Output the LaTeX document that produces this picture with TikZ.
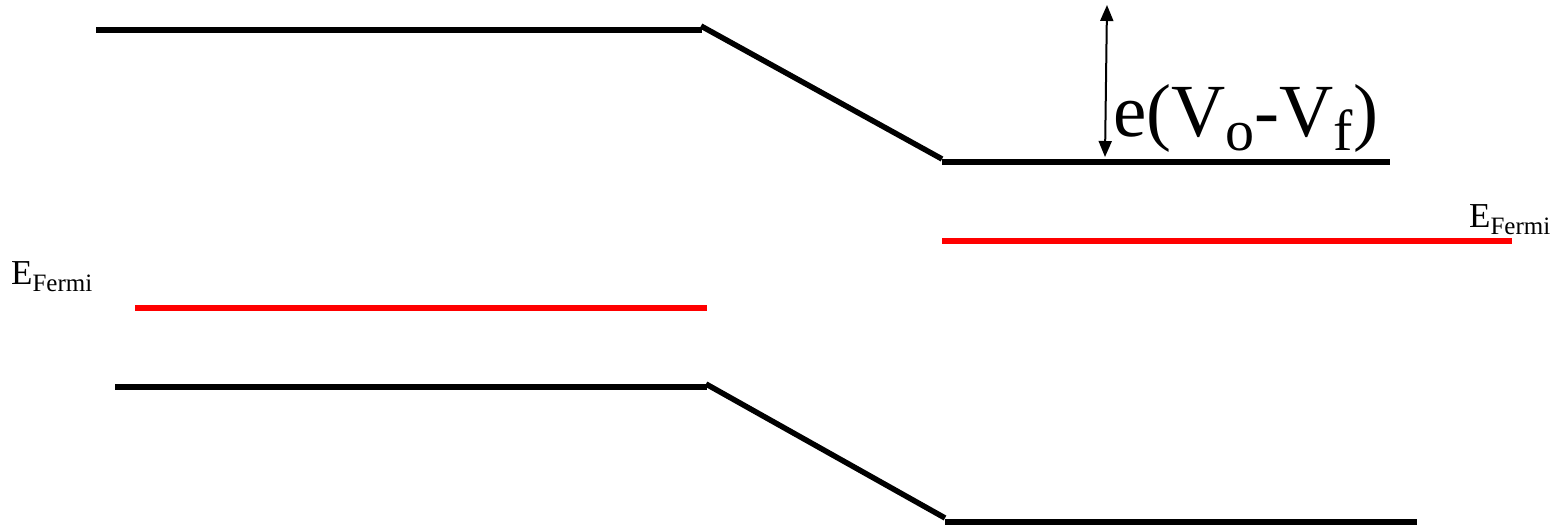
\documentclass[tikz,border=0pt]{standalone}
\usepackage{fontspec}
\setmainfont{Liberation Serif}
\usetikzlibrary{arrows.meta}
\newcommand{\lowsub}[1]{\raisebox{-14pt}{\fontsize{58}{58}\selectfont #1}}
\newcommand{\smallsub}[1]{\raisebox{-7pt}{\fontsize{25}{25}\selectfont #1}}
\begin{document}
\begin{tikzpicture}[x=1pt,y=-1pt,
  level/.style={line width=5.5pt,black},
  fermi/.style={line width=5.5pt,red},
  lbl/.style={inner sep=0pt,anchor=base west}]
\useasboundingbox (0,0) rectangle (1563,526);
% coordinates
\coordinate (tl1) at (96,30);   \coordinate (tl2) at (702,30);
\coordinate (td1) at (701,26);  \coordinate (td2) at (942,159);
\coordinate (tr1) at (942,162); \coordinate (tr2) at (1390,162);
\coordinate (fr1) at (942,241); \coordinate (fr2) at (1512,241);
\coordinate (fl1) at (135,308); \coordinate (fl2) at (707,308);
\coordinate (bl1) at (115,387); \coordinate (bl2) at (707,387);
\coordinate (bd1) at (706,384); \coordinate (bd2) at (945,518);
\coordinate (br1) at (945,522); \coordinate (br2) at (1417,522);
\coordinate (at) at (1107,5);   \coordinate (ab) at (1105,157);
% levels
\draw[level] (tl1) -- (tl2);
\draw[level] (td1) -- (td2);
\draw[level] (tr1) -- (tr2);
\draw[fermi] (fr1) -- (fr2);
\draw[fermi] (fl1) -- (fl2);
\draw[level] (bl1) -- (bl2);
\draw[level] (bd1) -- (bd2);
\draw[level] (br1) -- (br2);
% arrow
\draw[line width=2pt,{Triangle[length=16pt,width=13pt]}-{Triangle[length=16pt,width=13pt]}] (at) -- (ab);
% labels
\node[lbl] (lab) at (1113,137) {\fontsize{75}{75}\selectfont e(V\lowsub{o}-V\lowsub{f})};
\node[lbl] (efl) at (11,285) {\fontsize{35}{35}\selectfont E\smallsub{Fermi}};
\node[lbl] (efr) at (1469,228) {\fontsize{35}{35}\selectfont E\smallsub{Fermi}};
\end{tikzpicture}
\end{document}
